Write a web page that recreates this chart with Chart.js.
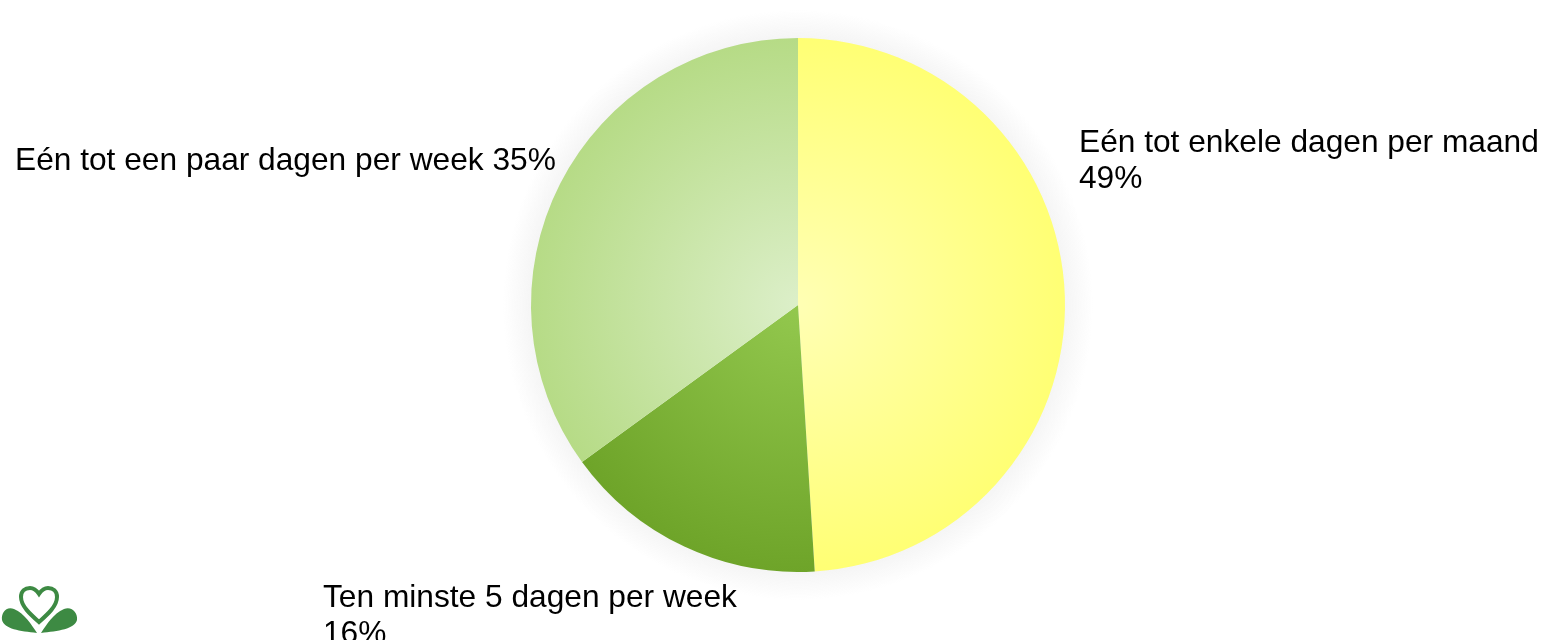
<!DOCTYPE html>
<html>
<head>
<meta charset="utf-8">
<script src="https://cdn.jsdelivr.net/npm/chart.js@4"></script>
<style>
  body { margin: 0; background: #fff; }
  #wrap { position: relative; width: 1558px; height: 640px; overflow: hidden; }
  canvas { position: absolute; left: 0; top: 0; }
  .lbl { position: absolute; font-family: "Liberation Sans", Arial, sans-serif; font-size: 31.7px; color: #000; line-height: 36px; white-space: nowrap; }
  #logo { position: absolute; left: 0; top: 580px; }
</style>
</head>
<body>
<div id="wrap">
  <canvas id="pie" width="1558" height="640"></canvas>
  <div class="lbl" id="l0" style="left:1079px; top:123px;"></div>
  <div class="lbl" id="l1" style="left:323px; top:578px;"></div>
  <div class="lbl" id="l2" style="left:15px; top:141px;"></div>
  <svg id="logo" width="90" height="60" viewBox="0 0 90 60">
    <path d="M39 42 C30 34 21 26 21 17 C21 11 25 8 30 8 C34 8 37 11 39 14 C41 11 44 8 48 8 C53 8 57 11 57 17 C57 26 48 34 39 42 Z"
          fill="none" stroke="#3d8a43" stroke-width="4"/>
    <path d="M37 53 C31 44 25 34 14 29 C6 26 1 33 2 40 C4 49 20 51 37 53 Z" fill="#3d8a43"/>
    <path d="M41 53 C47 44 53 34 64 29 C72 26 78 33 77 40 C75 49 58 51 41 53 Z" fill="#3d8a43"/>
  </svg>
</div>
<script>
const categories = ["Eén tot enkele dagen per maand", "Ten minste 5 dagen per week", "Eén tot een paar dagen per week"];
const percentages = [49, 16, 35];
const innerColors = ["#ffffb4", "#93c84e", "#dcefc9"];
const outerColors = ["#ffff74", "#6ea429", "#b6db86"];

document.getElementById("l0").innerHTML = categories[0] + "<br>" + percentages[0] + "%";
document.getElementById("l1").innerHTML = categories[1] + "<br>" + percentages[1] + "%";
document.getElementById("l2").innerHTML = categories[2] + " " + percentages[2] + "%";

function sliceFill(context) {
  const chart = context.chart;
  const area = chart.chartArea;
  if (!area) return outerColors[context.dataIndex];
  const cx = (area.left + area.right) / 2;
  const cy = (area.top + area.bottom) / 2;
  const r = Math.min(area.right - area.left, area.bottom - area.top) / 2;
  const g = chart.ctx.createRadialGradient(cx, cy, 0, cx, cy, r);
  g.addColorStop(0, innerColors[context.dataIndex]);
  g.addColorStop(1, outerColors[context.dataIndex]);
  return g;
}

// faint halo behind the pie
const halo = {
  id: "halo",
  beforeDatasetsDraw(chart) {
    const a = chart.chartArea;
    const cx = (a.left + a.right) / 2, cy = (a.top + a.bottom) / 2;
    const r = Math.min(a.right - a.left, a.bottom - a.top) / 2;
    const ctx = chart.ctx;
    ctx.save();
    const g = ctx.createRadialGradient(cx, cy, r, cx, cy, r + 28);
    g.addColorStop(0, "rgba(200,200,200,0.18)");
    g.addColorStop(1, "rgba(200,200,200,0)");
    ctx.fillStyle = g;
    ctx.beginPath();
    ctx.arc(cx, cy, r + 28, 0, Math.PI * 2);
    ctx.fill();
    ctx.restore();
  }
};

new Chart(document.getElementById("pie").getContext("2d"), {
  type: "pie",
  data: {
    labels: categories,
    datasets: [{
      data: percentages,
      backgroundColor: sliceFill,
      borderWidth: 0
    }]
  },
  options: {
    responsive: false,
    animation: false,
    layout: { padding: { left: 38, right: 0, top: 38, bottom: 68 } },
    plugins: {
      legend: { display: false },
      tooltip: { enabled: false }
    }
  },
  plugins: [halo]
});
</script>
</body>
</html>
